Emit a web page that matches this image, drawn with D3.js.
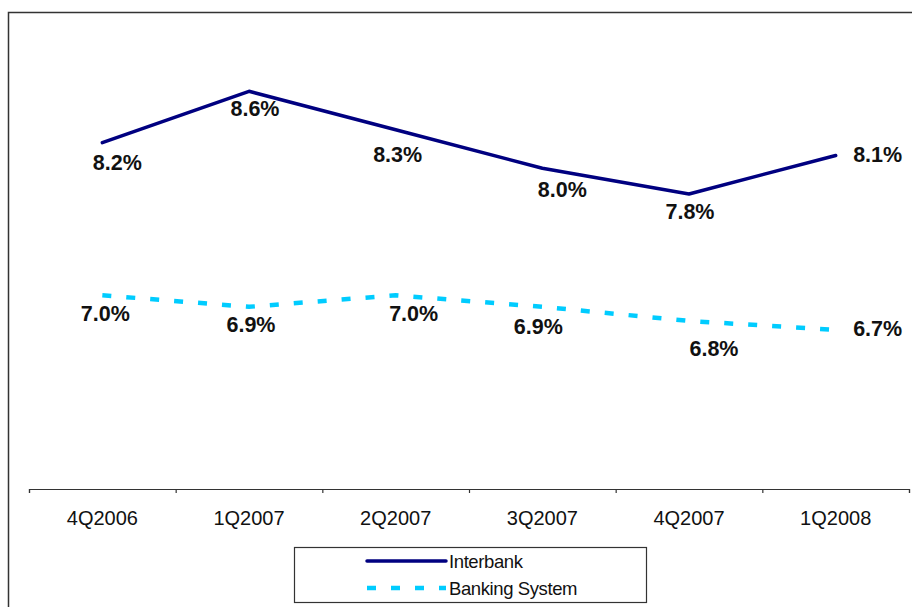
<!DOCTYPE html>
<html>
<head>
<meta charset="utf-8">
<script src="https://cdn.jsdelivr.net/npm/d3@7"></script>
<style>
  html, body { margin: 0; padding: 0; background: #fff; }
  svg { display: block; }
  text { font-family: Arial, "Liberation Sans", sans-serif; }
</style>
</head>
<body>
<svg id="chart" width="912" height="607"></svg>
<script>
// ---- data ----
const categories = ["4Q2006", "1Q2007", "2Q2007", "3Q2007", "4Q2007", "1Q2008"];
const interbank = [8.2, 8.6, 8.3, 8.0, 7.8, 8.1];
const bankingSystem = [7.01, 6.92, 7.01, 6.92, 6.81, 6.74];
const seriesNames = ["Interbank", "Banking System"];

// ---- label placement (layout only) ----
const interbankLabelDx = [15, 6, 2, 20, 1, 42];
const interbankLabelDy = [27, 25, 32, 29, 25, 7];
const bankingLabelDx = [3, 2, 18, -4, 25, 42];
const bankingLabelDy = [26, 25, 26, 27, 35, 6];

const svg = d3.select("#chart");
const plot = { left: 29, right: 909, top: 40, bottom: 489 };

// outer frame
svg.append("rect")
  .attr("x", 8.5).attr("y", 12.5)
  .attr("width", 960).attr("height", 700)
  .attr("fill", "none").attr("stroke", "#333").attr("stroke-width", 1.5);

const x = d3.scaleBand().domain(categories).range([plot.left, plot.right]).padding(0);
const xc = d => x(d) + x.bandwidth() / 2;
const y = d3.scaleLinear().domain([5.5, 9.0]).range([plot.bottom, plot.top]);

// axis ticks at category boundaries
const xTicks = d3.scaleLinear().domain([0, categories.length]).range([plot.left, plot.right]);
const axisG = svg.append("g").attr("transform", `translate(0,${plot.bottom})`)
  .call(d3.axisBottom(xTicks).tickValues(d3.range(categories.length + 1)).tickSize(4).tickSizeOuter(4).tickFormat(""));
axisG.selectAll("path, line").attr("stroke", "#333").attr("stroke-width", 1.2);

// category labels
const labG = svg.append("g").attr("transform", `translate(0,${plot.bottom})`)
  .call(d3.axisBottom(x).tickSize(0).tickPadding(30));
labG.select(".domain").remove();
labG.selectAll("text")
  .attr("font-family", "Arial, 'Liberation Sans', sans-serif")
  .attr("font-size", 20).attr("fill", "#111").attr("dy", "0.3em");

// lines
const line = d3.line().x((d, i) => xc(categories[i])).y(d => y(d));

svg.append("path").datum(bankingSystem)
  .attr("d", line).attr("fill", "none")
  .attr("stroke", "#00CCFF").attr("stroke-width", 4.5)
  .attr("stroke-dasharray", "9,15");

svg.append("path").datum(interbank)
  .attr("d", line).attr("fill", "none")
  .attr("stroke", "#000080").attr("stroke-width", 3.5)
  .attr("stroke-linejoin", "round").attr("stroke-linecap", "round");

// data labels
const fmt = v => d3.format(".1f")(v) + "%";
function labels(data, dx, dy) {
  svg.append("g").selectAll("text").data(data).join("text")
    .attr("x", (d, i) => xc(categories[i]) + dx[i])
    .attr("y", (d, i) => y(d) + dy[i])
    .attr("text-anchor", "middle")
    .attr("font-size", 21.5).attr("font-weight", "bold").attr("fill", "#111")
    .text(fmt);
}
labels(interbank, interbankLabelDx, interbankLabelDy);
labels(bankingSystem, bankingLabelDx, bankingLabelDy);

// legend
const lg = svg.append("g");
lg.append("rect").attr("x", 294.5).attr("y", 547.5).attr("width", 352).attr("height", 55)
  .attr("fill", "#fff").attr("stroke", "#333").attr("stroke-width", 1.2);
const legendItems = [
  { name: seriesNames[0], color: "#000080", width: 3.5, dash: null, yy: 561 },
  { name: seriesNames[1], color: "#00CCFF", width: 4.5, dash: "9,15", yy: 588 }
];
legendItems.forEach(it => {
  lg.append("line").attr("x1", 367).attr("x2", 446).attr("y1", it.yy).attr("y2", it.yy)
    .attr("stroke", it.color).attr("stroke-width", it.width)
    .attr("stroke-dasharray", it.dash)
    .attr("stroke-linecap", it.dash ? "butt" : "round");
  lg.append("text").attr("x", 449).attr("y", it.yy + 6.5)
    .attr("font-size", 18.5).attr("fill", "#111").attr("letter-spacing", "-0.4")
    .text(it.name);
});
</script>
</body>
</html>
